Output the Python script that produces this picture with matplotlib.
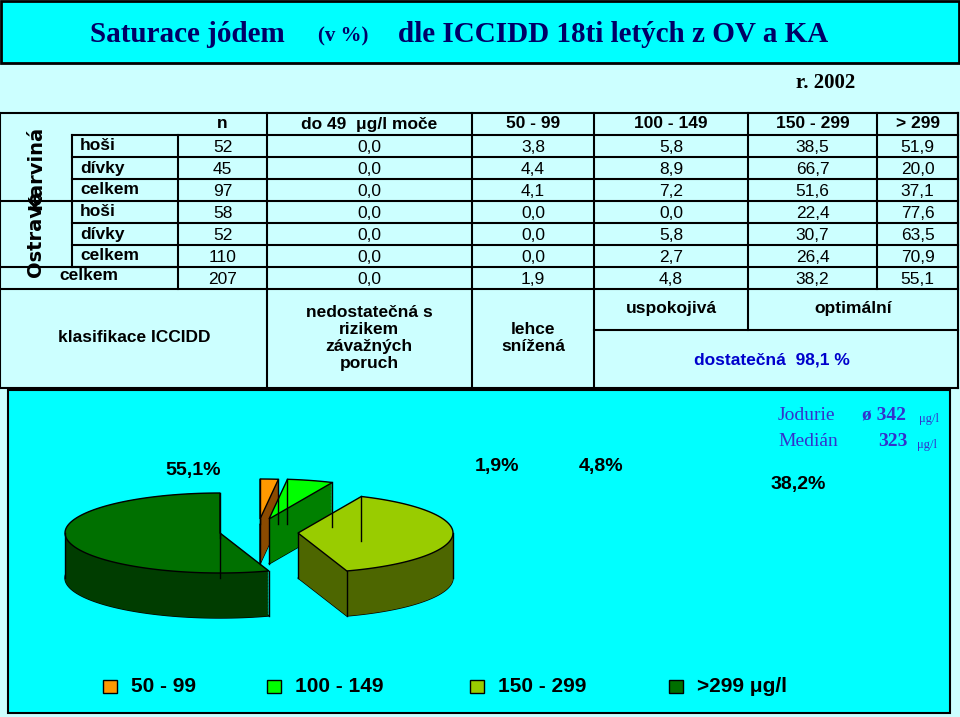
import numpy as np
import matplotlib
matplotlib.use("Agg")
import matplotlib.pyplot as plt
from matplotlib.patches import Rectangle, Polygon

# ---- data ----
col_headers = ["n", "do 49  μg/l moče", "50 - 99", "100 - 149", "150 - 299", "> 299"]
row_groups = ["Karviná", "Ostrava"]
row_labels = ["hoši", "dívky", "celkem", "hoši", "dívky", "celkem", "celkem"]
n_values = [52, 45, 97, 58, 52, 110, 207]
pct_do49 = [0.0, 0.0, 0.0, 0.0, 0.0, 0.0, 0.0]
pct_50_99 = [3.8, 4.4, 4.1, 0.0, 0.0, 0.0, 1.9]
pct_100_149 = [5.8, 8.9, 7.2, 0.0, 5.8, 2.7, 4.8]
pct_150_299 = [38.5, 66.7, 51.6, 22.4, 30.7, 26.4, 38.2]
pct_over299 = [51.9, 20.0, 37.1, 77.6, 63.5, 70.9, 55.1]
pie_labels = ["50 - 99", "100 - 149", "150 - 299", ">299 μg/l"]
pie_values = [1.9, 4.8, 38.2, 55.1]

fig = plt.figure(figsize=(9.6, 7.17), dpi=100)
fig.patch.set_facecolor("#ccffff")
ax = fig.add_axes([0, 0, 1, 1])
ax.set_xlim(0, 960); ax.set_ylim(717, 0); ax.axis("off")

# title
ax.add_patch(Rectangle((1, 1), 958, 62, fc="#00ffff", ec="black", lw=2))
ax.text(90, 34, "Saturace jódem", fontsize=21, family="Liberation Serif", weight="bold", color="#000066", va="center")
ax.text(318, 36, "(v %)", fontsize=15, family="Liberation Serif", weight="bold", color="#000066", va="center")
ax.text(398, 34, "dle ICCIDD 18ti letých z OV a KA", fontsize=21, family="Liberation Serif", weight="bold", color="#000066", va="center")
ax.text(855, 83, "r. 2002", fontsize=15, family="Liberation Serif", weight="bold", ha="right", va="center")

# table grid
xs = [0, 72, 178, 267, 472, 594, 748, 877, 958]
ys = [113, 135, 157, 179, 201, 223, 245, 267, 289]
lw = 1.5
def L(x0, y0, x1, y1):
    ax.plot([x0, x1], [y0, y1], color="black", lw=lw)
for y in ys:
    L(0 if y in (113, 289) else 72, y, 958, y)
L(0, 201, 72, 201); L(0, 267, 178, 267)
for x in xs[3:]:
    L(x, 113, x, 289)
L(0, 113, 0, 388); L(958, 113, 958, 388)
L(72, 135, 72, 267); L(178, 135, 178, 289)
L(0, 388, 958, 388)
for x in [267, 472, 594]:
    L(x, 289, x, 388)
L(748, 289, 748, 330); L(594, 330, 958, 330)

tf = dict(family="Liberation Sans", weight="bold", fontsize=12.5, ha="center", va="center")
nf = dict(family="Liberation Sans", fontsize=12.5, ha="center", va="center")
for i, h in enumerate(col_headers):
    ax.text((xs[i + 2] + xs[i + 3]) / 2, 124, h, **tf)
cols = [n_values, pct_do49, pct_50_99, pct_100_149, pct_150_299, pct_over299]
for r in range(7):
    yc = (ys[r + 1] + ys[r + 2]) / 2
    if r < 6:
        ax.text(80, yc, row_labels[r], **dict(tf, ha="left"))
    else:
        ax.text(89, yc - 2, row_labels[r], **tf)
    for c, col in enumerate(cols):
        s = str(col[r]) if c == 0 else f"{col[r]:.1f}".replace(".", ",")
        ax.text((xs[c + 2] + xs[c + 3]) / 2, yc + 1, s, **nf)
for g, name in enumerate(row_groups):
    ax.text(36, 168 + g * 66, name, rotation=90, family="Liberation Sans Narrow", weight="bold",
            fontsize=14, ha="center", va="center")
ax.text(134, 338, "klasifikace ICCIDD", **tf)
ax.text(369, 338, "nedostatečná s\nrizikem\nzávažných\nporuch", linespacing=1.15, **tf)
ax.text(533, 338, "lehce\nsnížená", linespacing=1.2, **tf)
ax.text(671, 309, "uspokojivá", **tf)
ax.text(853, 309, "optimální", **tf)
ax.text(772, 360, "dostatečná  98,1 %", **dict(tf, color="#0000cc"))

# pie box
ax.add_patch(Rectangle((8, 390), 942, 323, fc="#00ffff", ec="black", lw=1.5))
ax.text(778, 415, "Jodurie", family="Liberation Serif", fontsize=14, color="#3333cc", va="center")
ax.text(862, 415, "ø 342", family="Liberation Serif", fontsize=14, weight="bold", color="#3333cc", va="center")
ax.text(919, 419, "μg/l", family="Liberation Serif", fontsize=9, color="#3333cc", va="center")
ax.text(778, 441, "Medián", family="Liberation Serif", fontsize=14, color="#3333cc", va="center")
ax.text(878, 441, "323", family="Liberation Serif", fontsize=14, weight="bold", color="#3333cc", va="center")
ax.text(917, 445, "μg/l", family="Liberation Serif", fontsize=9, color="#3333cc", va="center")

# 3D exploded pie
top_c = ["#ff9900", "#00ff00", "#99cc00", "#007000"]
side_c = ["#8b4a00", "#008000", "#4d6600", "#003d00"]
apex = [(260, 519), (269, 519), (298, 533), (220, 533)]
rx, ry, depth = 155, 40, 45
vals = np.array(pie_values)
ang = 90 - np.concatenate([[0], np.cumsum(vals)]) / vals.sum() * 360
for i in range(len(vals)):
    t = np.radians(np.linspace(ang[i], ang[i + 1], 100))
    cx, cy = apex[i]
    px = np.concatenate([[cx], cx + rx * np.cos(t)])
    py = np.concatenate([[cy], cy - ry * np.sin(t)])
    pts = np.column_stack([px, py])
    ax.add_patch(Polygon(pts + [0, depth], closed=True, fc=side_c[i], ec="black", lw=1))
    for d in np.linspace(depth, 0, 60):
        ax.add_patch(Polygon(pts + [0, d], closed=True, fc=side_c[i], ec="none"))
    for k in [0, 1, len(pts) - 1]:
        ax.plot([pts[k, 0]] * 2, [pts[k, 1], pts[k, 1] + depth], color="black", lw=1)
    a_lo, a_hi = ang[i + 1], ang[i]
    for th, sx in ((180, -1), (0, 1), (360, 1), (-180, -1)):
        if a_lo <= th <= a_hi:
            ax.plot([cx + sx * rx] * 2, [cy, cy + depth], color="black", lw=1)
    ax.add_patch(Polygon(pts, closed=True, fc=top_c[i], ec="black", lw=1))

lab_pos = [(497, 467), (601, 467), (798, 485), (193, 471)]
for i, v in enumerate(pie_values):
    ax.text(*lab_pos[i], f"{v:.1f}%".replace(".", ","), family="Liberation Sans", weight="bold",
            fontsize=14, ha="center", va="center")

# legend
leg_x = [103, 267, 470, 669]
for i, lab in enumerate(pie_labels):
    ax.add_patch(Rectangle((leg_x[i], 680), 14, 13, fc=top_c[i], ec="black", lw=1))
    ax.text(leg_x[i] + 28, 687, lab, family="Liberation Sans", weight="bold", fontsize=15, va="center")

fig.savefig("out.png", dpi=100, facecolor=fig.get_facecolor())
